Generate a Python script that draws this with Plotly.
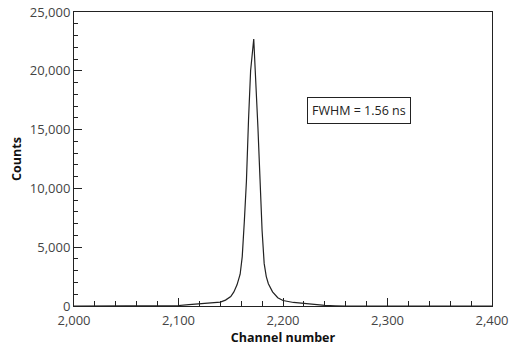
import plotly.graph_objects as go

channels = [2000, 2050, 2090, 2100, 2110, 2120, 2130, 2140, 2145, 2150, 2153, 2156, 2159,
            2161, 2163, 2165, 2167, 2169, 2172, 2174, 2176, 2178, 2180, 2182, 2184,
            2186, 2190, 2195, 2200, 2210, 2220, 2230, 2240, 2250, 2260, 2300, 2400]
counts = [0, 0, 10, 40, 110, 200, 250, 330, 500, 800, 1200, 1800, 2700,
          4200, 7200, 10600, 15800, 20000, 22700, 19200, 15200, 10800, 6400, 3600, 2500,
          1900, 1200, 700, 470, 300, 210, 120, 60, 20, 0, 0, 0]

x_ticks = [2000, 2100, 2200, 2300, 2400]
x_labels = ["2,000", "2,100", "2,200", "2,300", "2,400"]
y_ticks = [0, 5000, 10000, 15000, 20000, 25000]
y_labels = ["0", "5,000", "10,000", "15,000", "20,000", "25,000"]
note = "FWHM = 1.56 ns"
note_pos = (2273, 16650)

fig = go.Figure()
fig.add_trace(go.Scatter(x=channels, y=counts, mode="lines",
                         line=dict(color="#222222", width=1.2), showlegend=False))

font_family = "Open Sans, DejaVu Sans, sans-serif"
fig.update_layout(
    width=511, height=346,
    margin=dict(l=74, r=19, t=12, b=40, autoexpand=False),
    plot_bgcolor="white", paper_bgcolor="white",
    font=dict(family=font_family, size=12, color="#444444"),
)
fig.update_xaxes(
    range=[2000, 2400], tickvals=x_ticks, ticktext=x_labels, automargin=False,
    showgrid=False, zeroline=False,
    showline=True, linecolor="#222222", linewidth=1, mirror=True,
    ticks="inside", ticklen=8, tickcolor="#222222", ticklabelstandoff=2,
    minor=dict(dtick=20, tick0=2000, ticks="inside", ticklen=5, tickcolor="#222222"),
    tickfont=dict(size=13, color="#444444"),
    title=dict(text="<b>Channel number</b>", font=dict(size=12.5, color="#111111"), standoff=0),
)
fig.update_yaxes(
    range=[0, 25000], tickvals=y_ticks, ticktext=y_labels, automargin=False,
    showgrid=False, zeroline=False,
    showline=True, linecolor="#222222", linewidth=1, mirror=True,
    ticks="inside", ticklen=8, tickcolor="#222222",
    minor=dict(dtick=1000, tick0=0, ticks="inside", ticklen=4, tickcolor="#222222"),
    tickfont=dict(size=13, color="#444444"),
    title=dict(text="<b>Counts</b>", font=dict(size=12.5, color="#111111"), standoff=5),
)
fig.add_annotation(
    x=note_pos[0], y=note_pos[1], text=note, showarrow=False,
    font=dict(size=12.5, color="#222222", family=font_family),
    bordercolor="#222222", borderwidth=1, borderpad=4, bgcolor="white",
)
fig.write_html("out.html", config={"displayModeBar": False},
               post_script="document.body.style.margin='0';document.body.style.overflow='hidden';")
